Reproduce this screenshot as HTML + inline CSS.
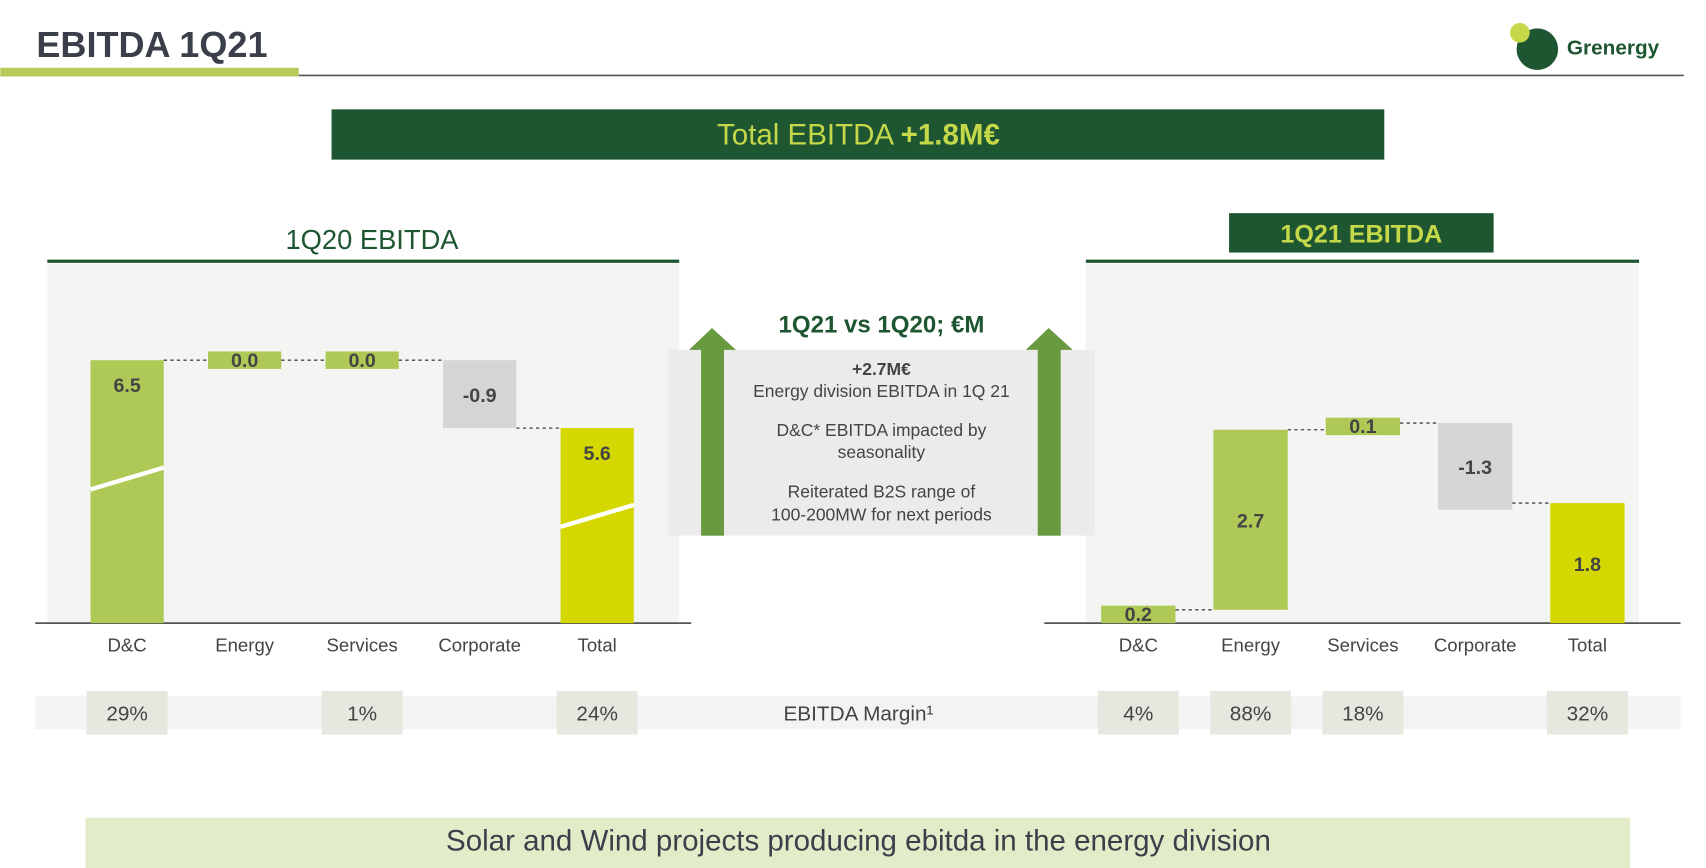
<!DOCTYPE html>
<html><head><meta charset="utf-8"><style>
html,body{margin:0;padding:0;background:#fff;}
svg{display:block;font-family:"Liberation Sans",sans-serif;}
</style></head><body>
<svg id="s" width="1706" height="868" viewBox="0 0 1560 794" xmlns="http://www.w3.org/2000/svg">
<rect width="1560" height="794" fill="#fff"/>
<text x="33" y="52" font-size="33" font-weight="bold" fill="#3a3f4a">EBITDA 1Q21</text>
<rect x="0" y="62" width="273" height="8" fill="#b5cc5a"/>
<line x1="273" y1="69" x2="1540" y2="69" stroke="#555" stroke-width="1.5"/>
<g>
<circle cx="1406" cy="45" r="19" fill="#1e5631"/><circle cx="1390" cy="30" r="9" fill="#c5d84a"/>
<text x="1433" y="50" font-size="19" font-weight="bold" fill="#1e5631">Grenergy</text>
</g>
<rect x="303" y="100" width="963" height="46" fill="#1e5631"/>
<text x="785" y="132" font-size="27" fill="#c5d84a" text-anchor="middle">Total EBITDA <tspan font-weight="bold">+1.8M€</tspan></text>

<rect x="43" y="241" width="578" height="329" fill="#f4f4f2"/>
<text x="340" y="228" font-size="25" fill="#1e5631" text-anchor="middle">1Q20 EBITDA</text>
<line x1="43" y1="239" x2="621" y2="239" stroke="#1e5631" stroke-width="3"/>
<rect x="993" y="241" width="506" height="329" fill="#f4f4f2"/>
<rect x="1124" y="195" width="242" height="36" fill="#1e5631"/>
<text x="1245" y="222" font-size="23" font-weight="bold" fill="#c5d84a" text-anchor="middle">1Q21 EBITDA</text>
<line x1="993" y1="239" x2="1499" y2="239" stroke="#1e5631" stroke-width="3"/>

<g>
<text x="806" y="304" font-size="22" font-weight="bold" fill="#1e5631" text-anchor="middle">1Q21 vs 1Q20; €M</text>
<rect x="611" y="320" width="390" height="170" fill="#ebebeb"/>
<rect x="641" y="318" width="21" height="172" fill="#6a9a3f"/><polygon points="630,320 651,300 673,320" fill="#6a9a3f"/>
<rect x="949" y="318" width="21" height="172" fill="#6a9a3f"/><polygon points="938,320 959,300 981,320" fill="#6a9a3f"/>
<g font-size="16" fill="#444" text-anchor="middle">
<text x="806" y="343" font-weight="bold">+2.7M€</text>
<text x="806" y="363">Energy division EBITDA in 1Q 21</text>
<text x="806" y="399">D&amp;C* EBITDA impacted by</text>
<text x="806" y="419">seasonality</text>
<text x="806" y="455">Reiterated B2S range of</text>
<text x="806" y="476">100-200MW for next periods</text>
</g></g>

<rect x="32" y="637" width="1505" height="30" fill="#f3f3f3"/>
<text x="785" y="659" font-size="19" fill="#444" text-anchor="middle">EBITDA Margin¹</text>

<g id="charts"></g>

<rect x="78" y="748" width="1413" height="48" fill="#e3ecc8"/>
<text x="785" y="778" font-size="27" fill="#3a3f4a" text-anchor="middle">Solar and Wind projects producing ebitda in the energy division</text>
</svg>
<script>
const categories = ["D&C","Energy","Services","Corporate","Total"];
const leftValues = [6.5, 0.0, 0.0, -0.9, 5.6];
const rightValues = [0.2, 2.7, 0.1, -1.3, 1.8];
const leftMargins = ["29%","","1%","","24%"];
const rightMargins = ["4%","88%","18%","","32%"];

const NS="http://www.w3.org/2000/svg";
const g=document.getElementById('charts');
function mk(t,a,p){const e=document.createElementNS(NS,t);for(const k in a)e.setAttribute(k,a[k]);(p||g).appendChild(e);return e;}

function drawChart(prefix, values, margins, x0, step, bw, axisL, axisR, yScale, labelPos){
  const base=570;
  mk('line',{x1:axisL,y1:base,x2:axisR,y2:base,stroke:'#555','stroke-width':1.5});
  let cum=0, prevLevel=null, prevRight=null;
  values.forEach((v,i)=>{
    const cx=x0+i*step, x=cx-bw/2;
    const isTotal=i===values.length-1;
    let a,b;
    if(isTotal){a=0;b=v;} else {a=cum;b=cum+v;cum=b;}
    let yTop=Math.min(yScale(a),yScale(b)), yBot=Math.max(yScale(a),yScale(b));
    yBot=Math.min(yBot,base); yTop=Math.min(yTop,base);
    if(yBot-yTop<16){const m=(yTop+yBot)/2; yTop=Math.min(m-8,base-16)-(a===0&&!isTotal&&v>0?0:0); yBot=yTop+16;}
    const fill=isTotal?'#d4d800':(v<0?'#d6d4d6':'#afc957');
    const r=mk('rect',{x:x,y:yTop,width:bw,height:yBot-yTop,fill:fill});
    
    
    if(yScale(0)>base && (i===0||isTotal) && yBot===base){
      const yb=yTop+(yBot-yTop)*0.45;
      mk('line',{x1:x,y1:yb+10,x2:x+bw,y2:yb-10,stroke:'#fff','stroke-width':4});
    }
    // connector
    const level=isTotal?yScale(v):yScale(b);
    if(prevLevel!==null){
      const lv=isTotal?yScale(v):yScale(a);
      mk('line',{x1:prevRight,y1:lv,x2:x,y2:lv,stroke:'#444','stroke-width':1.2,'stroke-dasharray':'3,3'});
    }
    prevLevel=level; prevRight=x+bw;
    let ty;
    const h=yBot-yTop;
    if(h<=20) ty=(yTop+yBot)/2+6;
    else if(labelPos[i]==='top') ty=yTop+29;
    else ty=(yTop+yBot)/2+7;
    const t=mk('text',{x:cx,y:ty,'font-size':18,'font-weight':'bold',fill:'#444','text-anchor':'middle'});
    t.textContent=v.toFixed(1);
    
    
    const c=mk('text',{x:cx,y:596,'font-size':17,fill:'#444','text-anchor':'middle'});
    c.textContent=categories[i];
    
    
    if(margins[i]){
      const mb=mk('rect',{x:cx-37,y:632,width:74,height:40,fill:'#e5e8df'});
      
      
      const mt=mk('text',{x:cx,y:659,'font-size':19,fill:'#444','text-anchor':'middle'});
      mt.textContent=margins[i];
      
      
    }
  });
}
drawChart('left', leftValues, leftMargins, 116, 107.5, 67, 32, 632, v=>778-v*69, ['top','c','c','c','top']);
drawChart('right', rightValues, rightMargins, 1041, 102.7, 68, 955, 1537, v=>570-v*61, ['c','c','c','c','c']);
</script>
</body></html>
